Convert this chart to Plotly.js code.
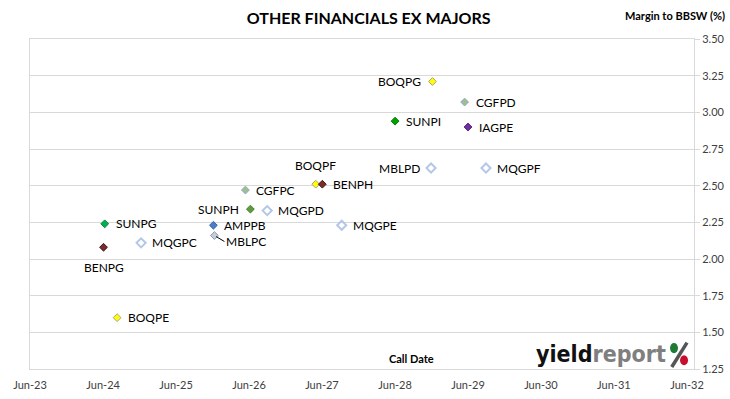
<!DOCTYPE html>
<html>
<head>
<meta charset="utf-8">
<script src="https://cdn.plot.ly/plotly-3.0.1.min.js"></script>
<style>
  html, body { margin: 0; padding: 0; background: #fff; }
  #chart { width: 730px; height: 399px; }
</style>
</head>
<body>
<div id="chart"></div>
<script>
// ---- data ----
const codes = ["BOQPG","CGFPD","SUNPI","IAGPE","MBLPD","MQGPF","BOQPF","BENPH","MQGPE",
               "CGFPC","SUNPH","MQGPD","AMPPB","MBLPC","SUNPG","MQGPC","BENPG","BOQPE"];
const callDates = ["2028-12-05","2029-05-15","2028-06-01","2029-06-01","2028-11-28","2029-08-30",
                   "2027-05-01","2027-06-03","2027-09-08","2026-05-14","2026-06-08","2026-08-31",
                   "2025-12-05","2025-12-10","2024-06-09","2024-12-08","2024-06-03","2024-08-10"];
const margins = [3.21, 3.07, 2.94, 2.90, 2.62, 2.62, 2.51, 2.51, 2.23,
                 2.47, 2.34, 2.33, 2.23, 2.16, 2.24, 2.11, 2.08, 1.60];
const xTickVals = ["2023-06-01","2024-06-01","2025-06-01","2026-06-01","2027-06-01",
                   "2028-06-01","2029-06-01","2030-06-01","2031-06-01","2032-06-01"];
const xTickText = ["Jun-23","Jun-24","Jun-25","Jun-26","Jun-27","Jun-28","Jun-29","Jun-30","Jun-31","Jun-32"];
const yTickVals = [1.25, 1.50, 1.75, 2.00, 2.25, 2.50, 2.75, 3.00, 3.25, 3.50];

// ---- styles ----
const fills = ["#FFFF00","#9FBE8A","#00A000","#7030A0","#B4C7E7","#B4C7E7","#FFFF00","#7B2B2B","#B4C7E7",
               "#9FBE8A","#5E9B3A","#B4C7E7","#4A7EC4","#C7CDD8","#00B050","#B4C7E7","#7B2B2B","#FFFF00"];
const edges = ["#A6A680","#8FA8C8","#008000","#5A2080","#B4C7E7","#B4C7E7","#A6A680","#4A1818","#B4C7E7",
               "#8FA8C8","#4A7F2C","#B4C7E7","#3A6AA8","#8E9BB8","#008A40","#B4C7E7","#4A1818","#A6A680"];
const symbols = codes.map((c, i) => fills[i] === "#B4C7E7" ? "diamond-open" : "diamond");
const sizes = symbols.map(s => s === "diamond-open" ? 7 : 6);
const lineWidths = symbols.map(s => s === "diamond-open" ? 2 : 1);
const labelPos = ["l","r","r","r","l","r","t","r","r","r","l","r","r","lead","r","r","b","r"];

const trace = {
  type: "scatter", mode: "markers",
  x: callDates, y: margins, text: codes,
  hoverinfo: "text+y",
  marker: { symbol: symbols, size: sizes, color: fills, opacity: 1,
            line: { color: edges, width: lineWidths } },
  showlegend: false
};

const labelFont = { family: "Lato, 'Open Sans', sans-serif", size: 12, color: "#000" };
const annotations = codes.map((c, i) => {
  const a = { x: callDates[i], y: margins[i], xref: "x", yref: "y", text: c,
              showarrow: false, font: labelFont };
  const p = labelPos[i];
  if (p === "r") { a.xanchor = "left"; a.yanchor = "middle"; a.xshift = 9; }
  else if (p === "l") { a.xanchor = "right"; a.yanchor = "middle"; a.xshift = -9; }
  else if (p === "t") { a.xanchor = "center"; a.yanchor = "bottom"; a.yshift = 9; }
  else if (p === "b") { a.xanchor = "center"; a.yanchor = "top"; a.yshift = -11; }
  else if (p === "lead") {
    a.showarrow = true; a.arrowhead = 0; a.arrowwidth = 1; a.arrowcolor = "#000";
    a.ax = 10; a.ay = 6; a.xanchor = "left"; a.yanchor = "middle"; a.standoff = 2;
  }
  return a;
});

annotations.push(
  { xref: "paper", yref: "paper", x: 0.574, y: 0.005, xanchor: "center", yanchor: "bottom",
    text: "<b>Call Date</b>", showarrow: false,
    font: { family: "Lato, sans-serif", size: 11, color: "#000" } },
  { xref: "paper", yref: "paper", x: 1.05, y: 1.045, xanchor: "right", yanchor: "bottom",
    text: "<b>Margin to BBSW (%)</b>", showarrow: false,
    font: { family: "Lato, sans-serif", size: 11, color: "#000" } },
  { xref: "paper", yref: "paper", x: 0.961, y: 0.0, xanchor: "right", yanchor: "bottom",
    text: "<b>yield<span style='color:#7F7F7F'>report</span></b>",
    showarrow: false,
    font: { family: "'DejaVu Sans Condensed', 'DejaVu Sans', sans-serif", size: 23, color: "#111" } }
);

const layout = {
  width: 730, height: 399,
  margin: { l: 29.5, r: 36, t: 38.5, b: 30 },
  paper_bgcolor: "#fff", plot_bgcolor: "#fff",
  title: { text: "<b>OTHER FINANCIALS EX MAJORS</b>", x: 0.505, xanchor: "center", y: 0.955, yanchor: "middle",
           font: { family: "Lato, sans-serif", size: 16, color: "#000" } },
  xaxis: {
    type: "date", range: ["2023-06-01", "2032-07-06"],
    tickvals: xTickVals, ticktext: xTickText,
    showgrid: false, zeroline: false,
    showline: true, linecolor: "#D9D9D9", linewidth: 1, mirror: true,
    ticks: "", ticklabelstandoff: 6,
    tickfont: { family: "Lato, sans-serif", size: 11, color: "#404040" }
  },
  yaxis: {
    side: "right", range: [1.25, 3.5],
    tickvals: yTickVals, tickformat: ".2f",
    showgrid: true, gridcolor: "#D9D9D9", gridwidth: 1, zeroline: false,
    showline: true, linecolor: "#D9D9D9", linewidth: 1, mirror: true,
    ticks: "outside", ticklen: 5, tickcolor: "#D9D9D9",
    tickfont: { family: "Lato, sans-serif", size: 11, color: "#404040" }
  },
  annotations: annotations,
  shapes: [
    { type: "line", xref: "paper", yref: "paper", x0: 0.9665, y0: 0.006, x1: 0.9895, y1: 0.080,
      line: { color: "#555", width: 3.5 } },
    { type: "circle", xref: "paper", yref: "paper", x0: 0.9639, x1: 0.9759, y0: 0.048, y1: 0.079,
      fillcolor: "#1E7B34", line: { width: 0 } },
    { type: "circle", xref: "paper", yref: "paper", x0: 0.9790, x1: 0.9910, y0: 0.011, y1: 0.042,
      fillcolor: "#C8102E", line: { width: 0 } }
  ]
};

Plotly.newPlot("chart", [trace], layout, { displayModeBar: false, staticPlot: true });
</script>
</body>
</html>
